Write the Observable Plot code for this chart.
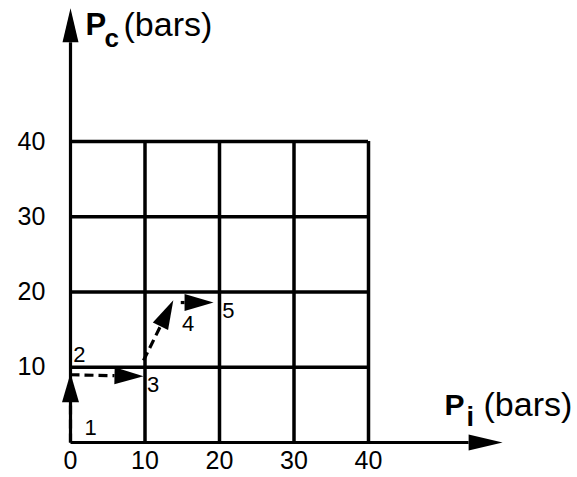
<!DOCTYPE html>
<html>
<head>
<meta charset="utf-8">
<script src="https://cdn.jsdelivr.net/npm/d3@7"></script>
<script src="https://cdn.jsdelivr.net/npm/@observablehq/plot@0.6"></script>
<style>
  html, body { margin: 0; padding: 0; background: #fff; }
  #chart svg { display: block; }
</style>
</head>
<body>
<div id="chart"></div>
<script>
// ---- data ----
const xTicks = [0, 10, 20, 30, 40];
const yTicks = [10, 20, 30, 40];
const gridValues = [10, 20, 30, 40];

// dashed path segments (start -> arrow tip), in bars
const pathStartX = [0, 0, 9.8, 14.8];
const pathStartY = [0, 9.0, 10.9, 18.6];
const pathEndX   = [0, 9.8, 13.8, 19.2];
const pathEndY   = [9.2, 8.8, 18.9, 18.6];

// numbered state labels
const pointLabels = ["1", "2", "3", "4", "5"];
const pointLabelX = [2.7, 1.2, 11.1, 15.8, 21.2];
const pointLabelY = [1.9, 11.6, 7.6, 15.8, 17.5];

// axis extents (arrow tips), in bars
const xAxisEnd = 58;
const yAxisEnd = 57.7;

// ---- layout ----
const W = 577, H = 477;
const X_RANGE = [70, 368];
const Y_RANGE = [442, 141];
const kx = (X_RANGE[1] - X_RANGE[0]) / 40;
const ky = (Y_RANGE[0] - Y_RANGE[1]) / 40;

// filled arrowhead symbol: tip at origin, pointing along screen angle a
function headSymbol(a, len, wid) {
  return {
    draw(ctx) {
      const c = Math.cos(a), s = Math.sin(a);
      const bx = -len * c, by = -len * s;
      const px = -s, py = c;
      ctx.moveTo(0, 0);
      ctx.lineTo(bx + px * wid / 2, by + py * wid / 2);
      ctx.lineTo(bx - px * wid / 2, by - py * wid / 2);
      ctx.closePath();
    }
  };
}

function arrowMarks(x1, y1, x2, y2, len, wid, dashed) {
  const sx = (x2 - x1) * kx, sy = -(y2 - y1) * ky;
  const L = Math.hypot(sx, sy);
  const a = Math.atan2(sy, sx);
  const f = Math.max(0, (L - len) / L);
  const bx = x1 + (x2 - x1) * f, by = y1 + (y2 - y1) * f;
  const out = [];
  out.push(Plot.link([0], {
    x1: () => x1, y1: () => y1, x2: () => bx, y2: () => by,
    stroke: "black", strokeWidth: 3.2,
    strokeDasharray: dashed ? "9,5" : null
  }));
  out.push(Plot.dot([0], {
    x: () => x2, y: () => y2, r: 10,
    symbol: headSymbol(a, len, wid), fill: "black", stroke: "none"
  }));
  return out;
}

const marks = [];

// grid
marks.push(Plot.ruleX(gridValues, {y1: 0, y2: 40, stroke: "black", strokeWidth: 3.5}));
marks.push(Plot.ruleY(gridValues, {x1: 0, x2: 40, stroke: "black", strokeWidth: 3.5}));

// axes with arrowheads
marks.push(...arrowMarks(0, 0, xAxisEnd, 0, 34, 16, false));
marks.push(...arrowMarks(0, 0, 0, yAxisEnd, 34, 16, false));

// dashed path
pathStartX.forEach((_, i) => {
  marks.push(...arrowMarks(pathStartX[i], pathStartY[i], pathEndX[i], pathEndY[i], 29, 17, true));
});

// tick labels
marks.push(Plot.text(xTicks, {x: d => d, y: 0, dy: 18, text: d => String(d), fontSize: 25, fill: "black"}));
marks.push(Plot.text(yTicks, {x: 0, y: d => d, dx: -39, text: d => String(d), fontSize: 25, fill: "black"}));

// state labels
marks.push(Plot.text(pointLabels, {
  x: (d, i) => pointLabelX[i], y: (d, i) => pointLabelY[i],
  text: d => d, fontSize: 22, fill: "black"
}));

// axis titles
const titleParts = [
  {t: "P", x: 85, y: 34, size: 31, w: "bold"},
  {t: "c", x: 104, y: 46, size: 26, w: "bold"},
  {t: "(bars)", x: 123, y: 35, size: 34, w: "normal"},
  {t: "P", x: 444, y: 414, size: 30, w: "bold"},
  {t: "i", x: 466, y: 425, size: 27, w: "bold"},
  {t: "(bars)", x: 483, y: 415, size: 34, w: "normal"}
];
titleParts.forEach(p => {
  marks.push(Plot.text([p.t], {
    frameAnchor: "top-left", dx: p.x, dy: p.y, text: d => d,
    textAnchor: "start", lineAnchor: "bottom",
    fontSize: p.size, fontWeight: p.w, fill: "black"
  }));
});

const chart = Plot.plot({
  width: W,
  height: H,
  margin: 0,
  x: {domain: [0, 40], range: X_RANGE, axis: null},
  y: {domain: [0, 40], range: Y_RANGE, axis: null},
  style: {fontFamily: "'Liberation Sans', Arial, Helvetica, sans-serif", background: "#fff", overflow: "visible"},
  marks
});
document.getElementById("chart").appendChild(chart);
</script>
</body>
</html>
